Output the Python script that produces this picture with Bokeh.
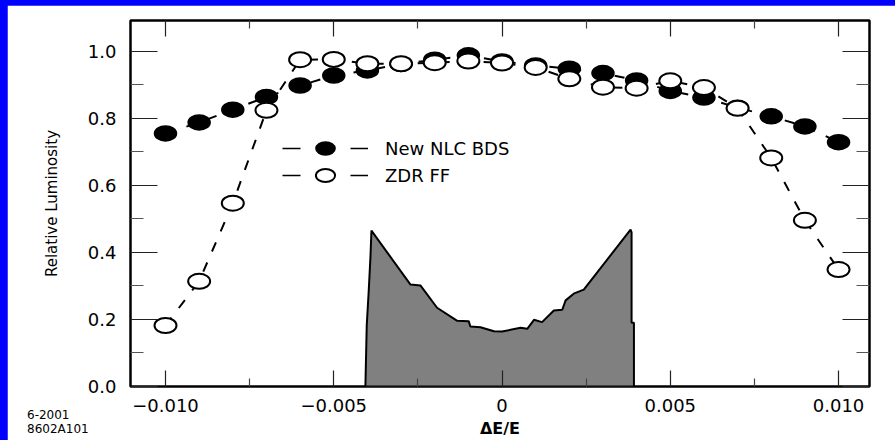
import math
from bokeh.plotting import figure
from bokeh.models import (LinearAxis, FixedTicker, Range1d, Legend, LegendItem,
                          ColumnDataSource, Div)
from bokeh.layouts import column
from bokeh.embed import file_html
from bokeh.resources import INLINE

# ---------------- data ----------------
delta_e = [-0.010, -0.009, -0.008, -0.007, -0.006, -0.005, -0.004, -0.003, -0.002, -0.001,
           0.000, 0.001, 0.002, 0.003, 0.004, 0.005, 0.006, 0.007, 0.008, 0.009, 0.010]
lum_new_nlc = [0.755, 0.788, 0.826, 0.864, 0.898, 0.928, 0.943, 0.962, 0.975, 0.988,
               0.970, 0.958, 0.948, 0.935, 0.913, 0.882, 0.862, 0.832, 0.806, 0.776, 0.729]
lum_zdr_ff = [0.182, 0.314, 0.547, 0.824, 0.975, 0.976, 0.963, 0.963, 0.966, 0.971,
              0.965, 0.952, 0.918, 0.893, 0.890, 0.912, 0.892, 0.830, 0.682, 0.496, 0.349]

# energy spread distribution (outline of the grey area)
spread_x = [-0.00406, -0.00402, -0.00396, -0.00391, -0.00388, -0.00272, -0.00242, -0.00193,
            -0.00133, -0.00099, -0.00094, -0.00064, -0.00024, 0.00000, 0.00055, 0.00075,
            0.00095, 0.00119, 0.00154, 0.00179, 0.00189, 0.00213, 0.00243, 0.00382,
            0.00385, 0.00385, 0.00392, 0.00392]
spread_y = [0.000, 0.182, 0.287, 0.386, 0.465, 0.304, 0.301, 0.235,
            0.196, 0.195, 0.179, 0.177, 0.165, 0.164, 0.175, 0.172,
            0.199, 0.192, 0.227, 0.229, 0.257, 0.277, 0.289, 0.468,
            0.460, 0.190, 0.190, 0.000]

series_names = ["New NLC BDS", "ZDR FF"]

x_ticks = [-0.010, -0.005, 0.0, 0.005, 0.010]
x_tick_labels = ["\u22120.010", "\u22120.005", "0", "0.005", "0.010"]
x_minor_ticks = [-0.0075, -0.0025, 0.0025, 0.0075]
y_ticks = [0.0, 0.2, 0.4, 0.6, 0.8, 1.0]
y_tick_labels = ["0.0", "0.2", "0.4", "0.6", "0.8", "1.0"]
y_minor_ticks = [0.1, 0.3, 0.5, 0.7, 0.9]

x_title = "\u0394E/E"
y_title = "Relative Luminosity"
notes = ["6-2001", "8602A101"]

# ---------------- figure ----------------
FONT = "DejaVu Sans"

p = figure(width=888, height=437, output_backend="svg", toolbar_location=None,
           x_range=Range1d(-0.01104, 0.01092), y_range=Range1d(0.0, 1.092),
           min_border_left=123, min_border_right=26, min_border_top=15, min_border_bottom=56)
p.margin = (5, 0, 0, 7)
p.background_fill_color = "white"
p.border_fill_color = "white"
p.grid.visible = False
p.outline_line_color = "black"
p.outline_line_width = 2.5
p.outline_line_alpha = 1.0

xticker = FixedTicker(ticks=x_ticks, minor_ticks=x_minor_ticks)
yticker = FixedTicker(ticks=y_ticks, minor_ticks=y_minor_ticks)


def style_x(ax):
    ax.ticker = xticker
    ax.axis_line_color = None
    ax.major_tick_in = 16
    ax.major_tick_out = 0
    ax.minor_tick_in = 8
    ax.minor_tick_out = 0
    ax.major_tick_line_color = "#222222"
    ax.minor_tick_line_color = "#444444"
    ax.major_tick_line_width = 1.2
    ax.minor_tick_line_width = 1.2


def style_y(ax):
    ax.ticker = yticker
    ax.axis_line_color = None
    ax.major_tick_in = 27
    ax.major_tick_out = 0
    ax.minor_tick_in = 13
    ax.minor_tick_out = 0
    ax.major_tick_line_color = "#222222"
    ax.minor_tick_line_color = "#555555"
    ax.major_tick_line_width = 1.2
    ax.minor_tick_line_width = 1.2


xa = p.xaxis[0]
style_x(xa)
xa.major_label_overrides = dict(zip(x_ticks, x_tick_labels))
xa.major_label_text_font = FONT
xa.major_label_text_font_size = "18px"
xa.major_label_text_color = "black"
xa.major_label_standoff = 12
xa.axis_label = x_title
xa.axis_label_text_font = FONT
xa.axis_label_text_font_size = "16px"
xa.axis_label_text_font_style = "bold"
xa.axis_label_text_color = "black"
xa.axis_label_standoff = 4

ya = p.yaxis[0]
style_y(ya)
ya.major_label_overrides = dict(zip(y_ticks, y_tick_labels))
ya.major_label_text_font = FONT
ya.major_label_text_font_size = "18px"
ya.major_label_text_color = "black"
ya.major_label_standoff = 14
ya.axis_label = y_title
ya.axis_label_text_font = FONT
ya.axis_label_text_font_size = "15px"
ya.axis_label_text_font_style = "normal"
ya.axis_label_text_color = "black"
ya.axis_label_standoff = 24

top_ax = LinearAxis(major_label_text_font_size="1px", major_label_text_color=None,
                    major_label_standoff=0)
style_x(top_ax)
p.add_layout(top_ax, "above")
right_ax = LinearAxis(major_label_text_font_size="1px", major_label_text_color=None,
                      major_label_standoff=0)
style_y(right_ax)
p.add_layout(right_ax, "right")

# ---------------- glyphs ----------------
src = ColumnDataSource(dict(de=delta_e, nlc=lum_new_nlc, zdr=lum_zdr_ff))
spread = ColumnDataSource(dict(x=spread_x, y=spread_y))

p.patch("x", "y", source=spread, fill_color="#808080", line_color="black", line_width=2)

p.line("de", "nlc", source=src, line_color="black", line_width=2, line_dash="10 12")
r_nlc = p.ellipse("de", "nlc", source=src, width=22, height=15,
                  width_units="screen", height_units="screen",
                  fill_color="black", line_color="black", line_width=1.5)
p.line("de", "zdr", source=src, line_color="black", line_width=2, line_dash="10 12")
r_zdr = p.ellipse("de", "zdr", source=src, width=22, height=15,
                  width_units="screen", height_units="screen",
                  fill_color="white", line_color="black", line_width=2)

# legend line samples (long dash - marker - long dash)
leg_src = ColumnDataSource(dict(x=[float("nan")], y=[float("nan")]))
leg_line1 = p.line("x", "y", source=leg_src, line_color="black", line_width=1.6, line_dash="18 50")
leg_line2 = p.line("x", "y", source=leg_src, line_color="black", line_width=1.6, line_dash="18 50")

legend = Legend(items=[LegendItem(label=series_names[0], renderers=[leg_line1, r_nlc]),
                       LegendItem(label=series_names[1], renderers=[leg_line2, r_zdr])],
                location=(152, 199), orientation="vertical",
                glyph_width=86, glyph_height=24, spacing=3, padding=0, margin=0,
                label_standoff=17, label_text_font=FONT, label_text_font_size="18px",
                label_text_color="black", label_height=24,
                background_fill_alpha=0, border_line_color=None)
p.add_layout(legend)

# figure id notes in the lower-left corner
note_div = Div(text="<br>".join(notes), width=100, height=32, margin=(-34, 0, 0, 27),
               styles={"font-family": FONT, "font-size": "12px", "line-height": "14px",
                       "color": "black", "background": "transparent"})

layout = column(p, note_div, styles={"background-color": "#0000FF"})

open("out.html", "w").write(file_html(layout, INLINE))
